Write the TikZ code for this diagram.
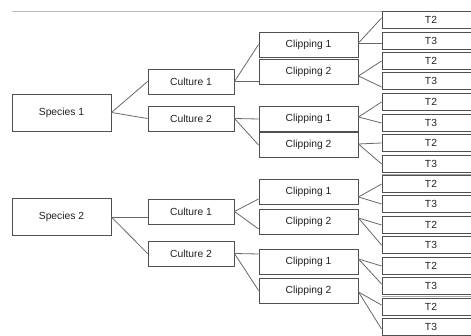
\documentclass[tikz,border=0pt]{standalone}
\usepackage{fontspec}
\setmainfont{Liberation Sans}
\usetikzlibrary{calc}
\definecolor{boxgray}{HTML}{505050}
\definecolor{linkgray}{HTML}{686868}
\definecolor{textgray}{HTML}{222222}
\definecolor{rulegray}{HTML}{BBBBBB}
\definecolor{bandgray}{HTML}{A8A8A8}
\begin{document}
\begin{tikzpicture}[x=1pt,y=-1pt,
  box/.style={draw=boxgray, line width=0.9pt, fill=white, inner sep=0pt,
              font=\fontsize{10.3}{12}\selectfont, text=textgray},
  species/.style={box, minimum width=99pt, minimum height=37pt},
  culture/.style={box, minimum width=86pt, minimum height=25pt},
  clipbox/.style={box, minimum width=99pt, minimum height=25pt},
  tbox/.style={box, minimum width=98pt, minimum height=17pt},
  link/.style={draw=linkgray, line width=0.8pt}]
\useasboundingbox (0,0) rectangle (471,336);
\clip (0,0) rectangle (471,336);
\fill[white] (0,0) rectangle (471,336);

% thin rule along the top
\coordinate (ruleL) at (12,11);
\coordinate (ruleR) at (382,11);
\draw[rulegray, line width=0.8pt] (ruleL) -- (ruleR);

% species
\node[species] (s1) at (61.5,112.5) {Species 1};
\node[species] (s2) at (61.5,217) {Species 2};

% cultures
\node[culture] (c1) at (191,81.5) {Culture 1};
\node[culture] (c2) at (191,118.5) {Culture 2};
\node[culture] (c3) at (191,211.5) {Culture 1};
\node[culture] (c4) at (191,253.5) {Culture 2};

% clippings
\node[clipbox] (k1) at (308.5,44.5) {Clipping 1};
\node[clipbox] (k2) at (308.5,71.5) {Clipping 2};
\node[clipbox] (k3) at (308.5,119) {Clipping 1};
\node[clipbox] (k4) at (308.5,145) {Clipping 2};
\node[clipbox] (k5) at (308.5,192) {Clipping 1};
\node[clipbox] (k6) at (308.5,221.5) {Clipping 2};
\node[clipbox] (k7) at (308.5,261.5) {Clipping 1};
\node[clipbox] (k8) at (308.5,290.5) {Clipping 2};

% treatments
\foreach \y/\lab [count=\i] in {20/T2,41/T3,61/T2,81/T3,102/T2,123/T3,143/T2,164/T3,
                                184/T2,204/T3,225/T2,245/T3,266/T2,286/T3,307/T2,327/T3}
  \node[tbox] (t\i) at (431,\y) {\lab};

% heavier separators between treatment boxes
\draw[bandgray, line width=1.8pt] ($(t8.south west)+(0,1.5)$) -- ($(t8.south east)+(0,1.5)$);
\draw[bandgray, line width=1.8pt] ($(t14.south west)+(0,1.5)$) -- ($(t14.south east)+(0,1.5)$);

% species -> cultures
\draw[link] (s1.east) -- (c1.west);
\draw[link] (s1.east) -- (c2.west);
\draw[link] (s2.east) -- (c3.west |- s2.east);
\draw[link] (s2.east) -- (c4.west);

% cultures -> clippings
\draw[link] (c1.east) -- (k1.west);
\draw[link] (c1.east) -- (k2.west |- c1.east);
\draw[link] (c2.east) -- (k3.west);
\draw[link] (c2.east) -- (k4.west);
\draw[link] (c3.east) -- ($(k5.west)+(0,7)$);
\draw[link] (c3.east) -- ($(k6.west)+(0,7.5)$);
\draw[link] (c4.east) -- ($(k7.west)+(0,-7.5)$);
\draw[link] (c4.east) -- (k8.west);

% clippings -> treatments
\draw[link] ($(k1.east)+(0,-1.5)$) -- ($(t1.west)+(0,-2)$);
\draw[link] ($(k1.east)+(0,-1.5)$) -- ($(t2.west)+(0,2)$);
\draw[link] ($(k2.east)+(0,4.5)$) -- (t3.west);
\draw[link] ($(k2.east)+(0,4.5)$) -- ($(t4.west)+(0,6)$);
\draw[link] ($(k3.east)+(0,-2)$) -- (t5.west);
\draw[link] ($(k3.east)+(0,-2)$) -- (t6.west);
\draw[link] ($(k4.east)+(0,-1)$) -- (t7.west);
\draw[link] ($(k4.east)+(0,-1)$) -- (t8.west);
\draw[link] ($(k5.east)+(0,5)$) -- (t9.west);
\draw[link] ($(k5.east)+(0,5)$) -- (t10.west);
\draw[link] ($(k6.east)+(0,-3.5)$) -- (t11.west);
\draw[link] ($(k6.east)+(0,-3.5)$) -- (t12.west);
\draw[link] ($(k7.east)+(0,-2.5)$) -- (t13.west);
\draw[link] ($(k7.east)+(0,-2.5)$) -- ($(t14.west)+(0,-2)$);
\draw[link] ($(k8.east)+(0,1.5)$) -- ($(t15.west)+(0,-2)$);
\draw[link] ($(k8.east)+(0,1.5)$) -- ($(t16.west)+(0,2)$);
\end{tikzpicture}
\end{document}
